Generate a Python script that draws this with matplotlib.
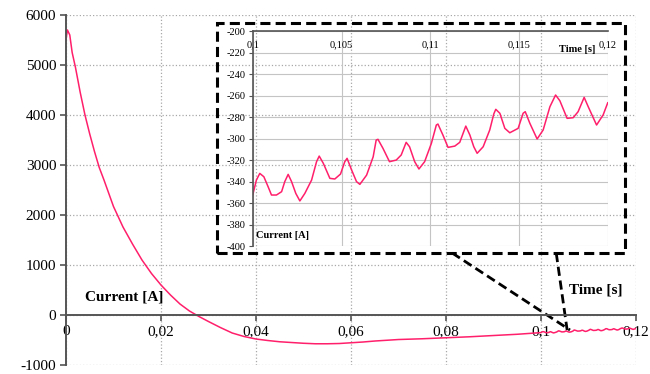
import matplotlib.pyplot as plt
from matplotlib.patches import Rectangle
from matplotlib.ticker import FuncFormatter, MultipleLocator

plt.rcParams['font.family'] = ['Liberation Serif', 'DejaVu Serif']

# main transient
t_main = [0, 0.0003, 0.0008, 0.0013, 0.002, 0.003, 0.004, 0.005, 0.006, 0.007,
          0.008, 0.010, 0.012, 0.014, 0.016, 0.018, 0.020, 0.022, 0.024, 0.026,
          0.028, 0.030, 0.0325, 0.035, 0.0375, 0.040, 0.0425, 0.045, 0.0475, 0.050,
          0.0525, 0.055, 0.0575, 0.060, 0.0625, 0.065, 0.0675, 0.070, 0.075, 0.080,
          0.085, 0.090, 0.095, 0.098]
i_main = [5500, 5700, 5600, 5250, 4950, 4450, 4000, 3620, 3270, 2950,
          2700, 2170, 1760, 1420, 1100, 830, 600, 400, 220, 80,
          -30, -130, -250, -360, -430, -480, -510, -535, -550, -565,
          -575, -575, -570, -555, -540, -520, -505, -490, -475, -455,
          -435, -410, -385, -365]

# detail from the zoomed inset, 0.1 .. 0.12 s
t_zoom = [0.1, 0.1002, 0.10039, 0.10062, 0.10086, 0.10105, 0.10133, 0.10162, 0.1018, 0.10199,
          0.10218, 0.10242, 0.10265, 0.10293, 0.10331, 0.10359, 0.10374, 0.10397, 0.10434, 0.10462,
          0.10494, 0.10518, 0.10531, 0.10556, 0.10584, 0.10603, 0.10641, 0.10678, 0.10695, 0.10705,
          0.10733, 0.1077, 0.10808, 0.10836, 0.10864, 0.10883, 0.10912, 0.10936, 0.10968, 0.11006,
          0.11034, 0.11043, 0.11071, 0.111, 0.11138, 0.11166, 0.112, 0.11223, 0.11245, 0.11264,
          0.11298, 0.11335, 0.11358, 0.11369, 0.11392, 0.1142, 0.11448, 0.11495, 0.11523, 0.11535,
          0.11561, 0.11602, 0.11636, 0.11674, 0.11706, 0.1173, 0.11771, 0.11805, 0.11833, 0.11867,
          0.1189, 0.11937, 0.11974, 0.12]
i_zoom = [-352, -338.6, -332.4, -335.5, -344.8, -352.5, -352.5, -349.4, -340, -333.3,
          -340, -351, -358, -351, -338.6, -321.5, -316.3, -323, -337, -337.6,
          -333, -321.5, -318.4, -329, -340, -342.6, -334, -317, -301.4, -300.7,
          -309, -321.5, -320, -315.3, -303.5, -307.6, -321.5, -328.3, -321.5, -304.5,
          -287.4, -286.5, -296.7, -308.2, -307, -303.5, -288.4, -296.7, -307.6, -313.7,
          -307.6, -292, -277, -272.8, -276.5, -290.5, -294.6, -290.5, -276.5, -275,
          -285.8, -300.4, -292, -270.4, -259.5, -264.8, -281.2, -280.6, -275, -261.7,
          -270.4, -287.4, -278, -266.7]

t_all = t_main + t_zoom
i_all = i_main + i_zoom

pink = '#ff1f6a'
dark = '#555555'


def comma(v, pos):
    s = ('%g' % v).replace('.', ',')
    return s


fig = plt.figure(figsize=(6.5, 3.74), dpi=100)
ax = fig.add_axes([0.1015, 0.024, 0.877, 0.936])
ax.plot(t_all, i_all, color=pink, lw=1.1)
ax.set_xlim(0, 0.12)
ax.set_ylim(-1000, 6000)
ax.xaxis.set_major_locator(MultipleLocator(0.02))
ax.yaxis.set_major_locator(MultipleLocator(1000))
ax.xaxis.set_major_formatter(FuncFormatter(comma))
ax.yaxis.set_major_formatter(FuncFormatter(lambda v, p: '%d' % v))
ax.grid(True, color='#a8a8a8', ls=':', lw=0.9)
for s in ['top', 'right']:
    ax.spines[s].set_visible(False)
ax.spines['bottom'].set_position(('data', 0))
for s in ['bottom', 'left']:
    ax.spines[s].set_color(dark)
    ax.spines[s].set_linewidth(1.4)
ax.tick_params(labelsize=11, color=dark, length=4, width=1.2, pad=3)
ax.text(0.0122, 360, 'Current [A]', fontsize=11, fontweight='bold', ha='center', va='center')
ax.text(0.1116, 500, 'Time [s]', fontsize=11, fontweight='bold', ha='center', va='center')

# connector lines from the zoom box down to the curve
ax.plot([0.0813, 0.1061], [1240, -300], color='black', lw=2, dashes=(3.3, 1.7))
ax.plot([0.1032, 0.1055], [1240, -300], color='black', lw=2, dashes=(3.3, 1.7))

fig.patches.append(Rectangle((0.334, 0.3235), 0.6275, 0.615, transform=fig.transFigure,
                             fill=False, ec='black', lw=2.2, ls=(0, (3.3, 1.7)), zorder=5))

ins = fig.add_axes([0.389, 0.342, 0.546, 0.575])
ins.patch.set_alpha(0)
ins.plot(t_zoom, i_zoom, color=pink, lw=1.1)
ins.set_xlim(0.1, 0.12)
ins.set_ylim(-400, -200)
ins.xaxis.set_major_locator(MultipleLocator(0.005))
ins.yaxis.set_major_locator(MultipleLocator(20))
ins.xaxis.set_major_formatter(FuncFormatter(comma))
ins.yaxis.set_major_formatter(FuncFormatter(lambda v, p: '%d' % v))
ins.grid(True, color='#c4c4c4', ls='-', lw=0.8)
for s in ['bottom', 'right']:
    ins.spines[s].set_visible(False)
for s in ['top', 'left']:
    ins.spines[s].set_color(dark)
    ins.spines[s].set_linewidth(1.2)
ins.tick_params(axis='x', top=True, labeltop=True, bottom=False, labelbottom=False,
                length=0, pad=-13, labelsize=7.5)
ins.tick_params(axis='y', labelsize=7.5, length=3, color=dark, pad=2)
ins.text(0.10015, -390, 'Current [A]', fontsize=7.5, fontweight='bold', ha='left', va='center')
ins.text(0.1193, -217, 'Time [s]', fontsize=7.5, fontweight='bold', ha='right', va='center')

fig.savefig('out.png', dpi=100)
